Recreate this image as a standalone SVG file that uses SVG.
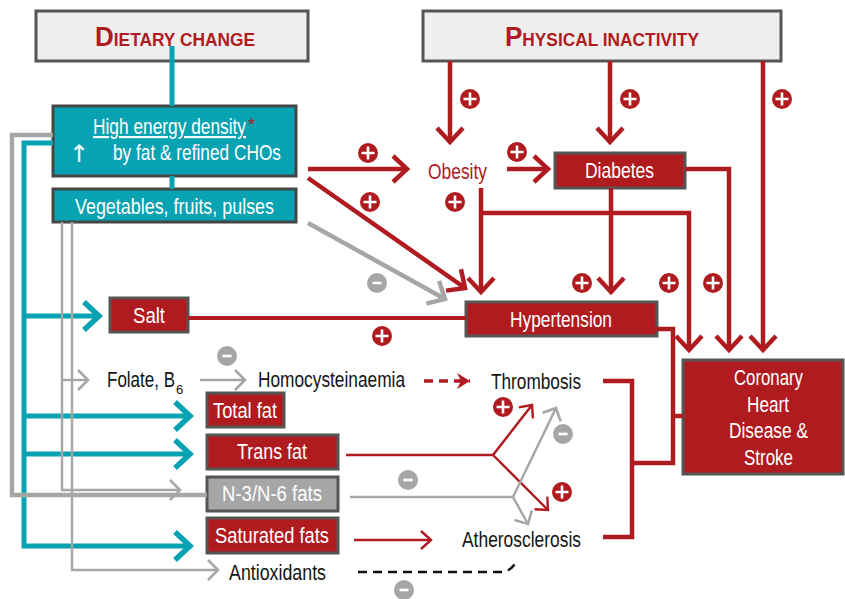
<svg xmlns="http://www.w3.org/2000/svg" width="845" height="599" viewBox="0 0 845 599">
  <style>
    text { font-family: "Liberation Sans", Arial, sans-serif; }
    .lab { fill: #ffffff; font-size: 22px; }
    .dark { fill: #141414; font-size: 22px; }
    .title { fill: #b01b20; font-weight: bold; }
    .tbox { fill: #efefef; stroke: #555555; stroke-width: 3; }
    .teal { fill: #08a3b2; stroke: #454545; stroke-width: 3; }
    .red { fill: #b01b20; stroke: #555555; stroke-width: 3; }
    .grey { fill: #a6a6a6; stroke: #555555; stroke-width: 3; }
    .lr { fill: none; stroke: #b01b20; stroke-width: 4.5; }
    .lt { fill: none; stroke: #08a3b2; stroke-width: 5; }
    .lg { fill: none; stroke: #a6a6a6; stroke-width: 4.5; }
    .lgt { fill: none; stroke: #a6a6a6; stroke-width: 2.4; }
    .lrt { fill: none; stroke: #b01b20; stroke-width: 2.4; }
  </style>
  <defs>
    <marker id="mR" markerUnits="userSpaceOnUse" markerWidth="30" markerHeight="30" refX="0" refY="0" orient="auto" overflow="visible">
      <path d="M-14,-13 L0,0 L-14,13" fill="none" stroke="#b01b20" stroke-width="4.5"/>
    </marker>
    <marker id="mT" markerUnits="userSpaceOnUse" markerWidth="30" markerHeight="30" refX="0" refY="0" orient="auto" overflow="visible">
      <path d="M-15,-14 L0,0 L-15,14" fill="none" stroke="#08a3b2" stroke-width="5.5"/>
    </marker>
    <marker id="mG" markerUnits="userSpaceOnUse" markerWidth="30" markerHeight="30" refX="0" refY="0" orient="auto" overflow="visible">
      <path d="M-14,-13 L0,0 L-14,13" fill="none" stroke="#a6a6a6" stroke-width="4.5"/>
    </marker>
    <marker id="mRt" markerUnits="userSpaceOnUse" markerWidth="24" markerHeight="24" refX="0" refY="0" orient="auto" overflow="visible">
      <path d="M-10,-9 L0,0 L-10,9" fill="none" stroke="#b01b20" stroke-width="2.4"/>
    </marker>
    <marker id="mGt" markerUnits="userSpaceOnUse" markerWidth="24" markerHeight="24" refX="0" refY="0" orient="auto" overflow="visible">
      <path d="M-10,-10 L0,0 L-10,10" fill="none" stroke="#a6a6a6" stroke-width="2.6"/>
    </marker>
    <marker id="mRd" markerUnits="userSpaceOnUse" markerWidth="24" markerHeight="24" refX="0" refY="0" orient="auto" overflow="visible">
      <path d="M-13,-8 L0,0 L-13,8 L-9,0 Z" fill="#b01b20"/>
    </marker>
    <g id="plus">
      <circle r="10" fill="#b01b20"/>
      <path d="M-6.5,0 H6.5 M0,-6.5 V6.5" stroke="#ffffff" stroke-width="2.6"/>
    </g>
    <g id="minus">
      <circle r="10" fill="#a6a6a6"/>
      <path d="M-4.5,0 H4.5" stroke="#ffffff" stroke-width="2.6"/>
    </g>
  </defs>

  <!-- top level drivers -->
  <g id="dietary-change">
    <rect class="tbox" x="36" y="11" width="272" height="50"/>
    <text class="title" x="95" y="46" textLength="160" lengthAdjust="spacingAndGlyphs"><tspan style="font-size:27px">D</tspan><tspan style="font-size:18px">IETARY CHANGE</tspan></text>
  </g>
  <g id="physical-inactivity">
    <rect class="tbox" x="423" y="11" width="358" height="50"/>
    <text class="title" x="505" y="46" textLength="194" lengthAdjust="spacingAndGlyphs"><tspan style="font-size:27px">P</tspan><tspan style="font-size:18px">HYSICAL INACTIVITY</tspan></text>
  </g>

  <!-- diet composition -->
  <g id="high-energy-density">
    <rect class="teal" x="53" y="106" width="243" height="70"/>
    <text class="lab" x="93" y="134"><tspan textLength="153" lengthAdjust="spacingAndGlyphs" text-decoration="underline">High energy density</tspan><tspan dx="2" dy="-3" style="font-size:18px" fill="#b01b20">*</tspan></text>
    <text x="69" y="162" style="font-family:'DejaVu Sans',sans-serif;font-size:24px" fill="#ffffff">↑</text>
    <text class="lab" x="113" y="160" textLength="168" lengthAdjust="spacingAndGlyphs">by fat &amp; refined CHOs</text>
  </g>
  <g id="vegetables">
    <rect class="teal" x="53" y="189" width="243" height="33"/>
    <text class="lab" x="75" y="214" textLength="199" lengthAdjust="spacingAndGlyphs">Vegetables, fruits, pulses</text>
  </g>

  <g id="salt">
    <rect class="red" x="110" y="298" width="78" height="34"/>
    <text class="lab" x="133" y="323" textLength="32" lengthAdjust="spacingAndGlyphs">Salt</text>
  </g>
  <g id="folate">
    <text class="dark" x="107" y="387"><tspan textLength="68" lengthAdjust="spacingAndGlyphs">Folate, B</tspan><tspan dx="1" dy="7" style="font-size:13px">6</tspan></text>
  </g>
  <g id="homocysteinaemia">
    <text class="dark" x="258" y="387" textLength="147" lengthAdjust="spacingAndGlyphs">Homocysteinaemia</text>
  </g>
  <g id="total-fat">
    <rect class="red" x="207" y="393" width="77" height="34"/>
    <text class="lab" x="213" y="418" textLength="64" lengthAdjust="spacingAndGlyphs">Total fat</text>
  </g>
  <g id="trans-fat">
    <rect class="red" x="207" y="435" width="131" height="34"/>
    <text class="lab" x="237" y="459" textLength="70" lengthAdjust="spacingAndGlyphs">Trans fat</text>
  </g>
  <g id="n3-n6-fats">
    <rect class="grey" x="207" y="477" width="131" height="34"/>
    <text class="lab" x="222" y="501" textLength="100" lengthAdjust="spacingAndGlyphs">N-3/N-6 fats</text>
  </g>
  <g id="saturated-fats">
    <rect class="red" x="207" y="518" width="131" height="35"/>
    <text class="lab" x="215" y="543" textLength="114" lengthAdjust="spacingAndGlyphs">Saturated fats</text>
  </g>
  <g id="antioxidants">
    <text class="dark" x="229" y="580" textLength="97" lengthAdjust="spacingAndGlyphs">Antioxidants</text>
  </g>

  <!-- intermediate conditions -->
  <g id="obesity">
    <text x="428" y="179" style="font-size:22px" fill="#b01b20" textLength="59" lengthAdjust="spacingAndGlyphs">Obesity</text>
  </g>
  <g id="diabetes">
    <rect class="red" x="555" y="153" width="130" height="35"/>
    <text class="lab" x="585" y="178" textLength="69" lengthAdjust="spacingAndGlyphs">Diabetes</text>
  </g>
  <g id="hypertension">
    <rect class="red" x="466" y="302" width="191" height="34"/>
    <text class="lab" x="510" y="327" textLength="102" lengthAdjust="spacingAndGlyphs">Hypertension</text>
  </g>
  <g id="thrombosis">
    <text class="dark" x="491" y="389" textLength="90" lengthAdjust="spacingAndGlyphs">Thrombosis</text>
  </g>
  <g id="atherosclerosis">
    <text class="dark" x="462" y="547" textLength="119" lengthAdjust="spacingAndGlyphs">Atherosclerosis</text>
  </g>

  <!-- outcome -->
  <g id="chd-stroke">
    <rect class="red" x="683" y="360" width="160" height="114"/>
    <text class="lab" x="734" y="385" textLength="69" lengthAdjust="spacingAndGlyphs">Coronary</text>
    <text class="lab" x="747" y="412" textLength="42" lengthAdjust="spacingAndGlyphs">Heart</text>
    <text class="lab" x="729" y="438" textLength="79" lengthAdjust="spacingAndGlyphs">Disease &amp;</text>
    <text class="lab" x="744" y="465" textLength="49" lengthAdjust="spacingAndGlyphs">Stroke</text>
  </g>

  <g id="connectors">
    <!-- teal: dietary change branches -->
    <path class="lt" d="M172,46 V106 M172,176 V189"/>
    <path class="lt" d="M53,143 H24 V546 H190" marker-end="url(#mT)"/>
    <path class="lt" d="M24,316 H99" marker-end="url(#mT)"/>
    <path class="lt" d="M24,416 H190" marker-end="url(#mT)"/>
    <path class="lt" d="M24,454 H190" marker-end="url(#mT)"/>

    <!-- grey: protective branches -->
    <path class="lg" d="M53,135 H12 V495 H207"/>
    <path class="lgt" d="M62,222 V490 H180" marker-end="url(#mGt)"/>
    <path class="lgt" d="M62,380 H88" marker-end="url(#mGt)"/>
    <path class="lgt" d="M72,222 V570 H218" marker-end="url(#mGt)"/>
    <path class="lgt" d="M200,380 H245" marker-end="url(#mGt)"/>
    <path class="lg" d="M308,223 L445,299" marker-end="url(#mG)"/>

    <!-- red: risk pathways -->
    <path class="lr" d="M450,61 V142" marker-end="url(#mR)"/>
    <path class="lr" d="M610,61 V142" marker-end="url(#mR)"/>
    <path class="lr" d="M763,61 V350" marker-end="url(#mR)"/>
    <path class="lr" d="M308,169 H407" marker-end="url(#mR)"/>
    <path class="lr" d="M308,178 L465,288" marker-end="url(#mR)"/>
    <path class="lr" d="M507,169 H548" marker-end="url(#mR)"/>
    <path class="lr" d="M481,188 V292" marker-end="url(#mR)"/>
    <path class="lr" d="M481,213 H689 V350" marker-end="url(#mR)"/>
    <path class="lr" d="M611,188 V292" marker-end="url(#mR)"/>
    <path class="lr" d="M685,169 H729 V350" marker-end="url(#mR)"/>
    <path class="lr" style="stroke-width:4" d="M188,318 H466"/>
    <path class="lr" d="M630,329 H673 V463 H632 M673,416 H683"/>
    <path class="lr" d="M603,381 H632 V537 H603"/>
    <path class="lr" style="stroke-width:3.5;stroke-dasharray:9,6" d="M424,381 H470" marker-end="url(#mRd)"/>

    <!-- fats to thrombosis / atherosclerosis -->
    <path class="lrt" d="M346,455 H493 L532,405" marker-end="url(#mRt)"/>
    <path class="lrt" d="M493,455 L548,510" marker-end="url(#mRt)"/>
    <path class="lgt" d="M350,497 H513 L556,408" marker-end="url(#mGt)"/>
    <path class="lgt" d="M513,497 L528,524" marker-end="url(#mGt)"/>
    <path class="lrt" d="M354,540 H431" marker-end="url(#mRt)"/>
    <path d="M358,572 H503 Q512,570 516,562" fill="none" stroke="#111" stroke-width="2.5" stroke-dasharray="9,6"/>

    <!-- effect signs -->
    <use href="#plus" x="470" y="99"/>
    <use href="#plus" x="630" y="99"/>
    <use href="#plus" x="782" y="99"/>
    <use href="#plus" x="368" y="153"/>
    <use href="#plus" x="517" y="152"/>
    <use href="#plus" x="370" y="202"/>
    <use href="#plus" x="455" y="202"/>
    <use href="#plus" x="582" y="283"/>
    <use href="#plus" x="669" y="283"/>
    <use href="#plus" x="713" y="283"/>
    <use href="#plus" x="382" y="336"/>
    <use href="#plus" x="503" y="407"/>
    <use href="#plus" x="562" y="492"/>
    <use href="#minus" x="377" y="283"/>
    <use href="#minus" x="227" y="356"/>
    <use href="#minus" x="408" y="480"/>
    <use href="#minus" x="563" y="434"/>
    <use href="#minus" x="404" y="590"/>
  </g>
</svg>
